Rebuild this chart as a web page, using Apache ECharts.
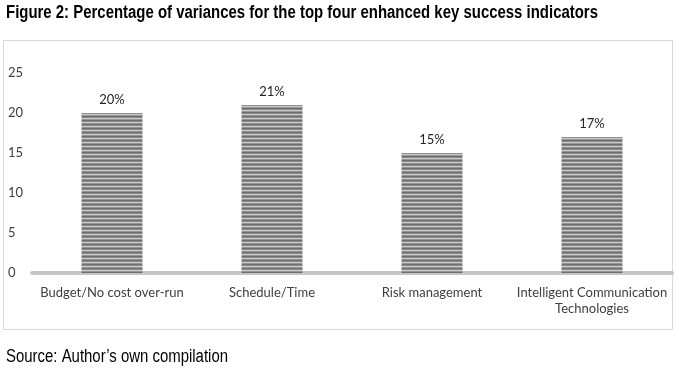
<!DOCTYPE html>
<html>
<head>
<meta charset="utf-8">
<script src="https://cdn.jsdelivr.net/npm/echarts@6/dist/echarts.min.js"></script>
<style>
  html, body { margin: 0; padding: 0; background: #fff; }
  #chart { width: 679px; height: 376px; }
</style>
</head>
<body>
<div id="chart"></div>
<script>
// chart data
const categories = [
  "Budget/No cost over-run",
  "Schedule/Time",
  "Risk management",
  "Intelligent Communication\nTechnologies"
];
const values = [20, 21, 15, 17];
const yTicks = [0, 5, 10, 15, 20, 25];

// horizontal stripe fill for the bars
function stripes() {
  const c = document.createElement("canvas");
  c.width = 4;
  c.height = 4;
  const ctx = c.getContext("2d");
  const rows = ["#6e6e6e", "#8c8c8c", "#cacaca", "#959595"];
  rows.forEach((col, i) => {
    ctx.fillStyle = col;
    ctx.fillRect(0, i, 4, 1);
  });
  return c;
}

const labelFont = "Lato, 'Open Sans', sans-serif";
const narrow = "'Liberation Sans Narrow', 'Liberation Sans', sans-serif";
const chart = echarts.init(document.getElementById("chart"));
chart.setOption({
  animation: false,
  graphic: [
    {
      // no narrow font here, so squeeze the title
      type: "text",
      x: 6,
      y: 13,
      scaleX: 0.83,
      style: {
        text: "Figure 2: Percentage of variances for the top four enhanced key success indicators",
        font: "bold 18px " + narrow,
        fill: "#000",
        verticalAlign: "middle"
      }
    },
    {
      type: "rect",
      shape: { x: 3.5, y: 40.5, width: 669, height: 289 },
      style: { fill: "none", stroke: "#d9d9d9", lineWidth: 1 },
      z: -1
    },
    {
      type: "text",
      x: 6,
      y: 357,
      scaleX: 0.83,
      style: {
        text: "Source: Author\u2019s own compilation",
        font: "18px " + narrow,
        fill: "#000",
        verticalAlign: "middle"
      }
    }
  ],
  grid: { left: 32, right: 7, top: 73, bottom: 103 },
  xAxis: {
    type: "category",
    data: categories,
    axisLine: { lineStyle: { color: "#c4c4c4", width: 4 } },
    axisTick: { show: false },
    axisLabel: {
      interval: 0,
      margin: 12,
      color: "#404040",
      fontFamily: labelFont,
      fontSize: 13,
      lineHeight: 16
    }
  },
  yAxis: {
    type: "value",
    min: yTicks[0],
    max: yTicks[yTicks.length - 1],
    interval: 5,
    splitLine: { show: false },
    axisLine: { show: false },
    axisTick: { show: false },
    axisLabel: {
      align: "left",
      margin: 24,
      color: "#404040",
      fontFamily: labelFont,
      fontSize: 13
    }
  },
  series: [
    {
      type: "bar",
      data: values,
      barWidth: 61,
      itemStyle: { color: { image: stripes(), repeat: "repeat" } },
      label: {
        show: true,
        position: "top",
        distance: 7,
        formatter: "{c}%",
        color: "#262626",
        fontFamily: labelFont,
        fontSize: 13
      }
    }
  ]
});
</script>
</body>
</html>
